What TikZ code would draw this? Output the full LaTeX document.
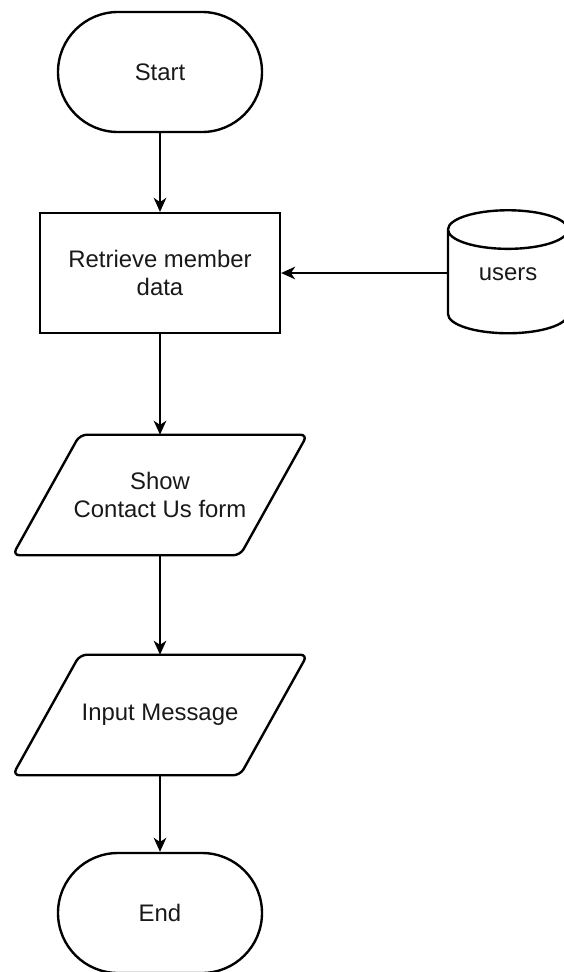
\documentclass[tikz,border=0pt]{standalone}
\usepackage{fontspec}
\setmainfont{Liberation Sans}
\usetikzlibrary{shapes.misc,shapes.geometric,arrows.meta}

\tikzstyle{startstop} = [draw, line width=1.7pt, rounded rectangle, minimum width=5.1cm, minimum height=3cm, inner sep=0pt]
\tikzstyle{process} = [draw, line width=1.6pt, rectangle, minimum width=6cm, minimum height=3cm, align=center]
\tikzstyle{io} = [rectangle, minimum width=5.675cm, minimum height=3cm, align=center, inner sep=0pt]
\tikzstyle{ioborder} = [line width=1.7pt, rounded corners=5pt]
\tikzstyle{db} = [draw, line width=1.7pt, cylinder, shape border rotate=90, aspect=0.66, minimum width=3cm, minimum height=3.075cm, inner sep=0pt]
\tikzstyle{arrow} = [line width=1.1pt, -{Stealth[length=10pt, width=9pt, inset=3pt]}]

\begin{document}
\begin{tikzpicture}[font=\fontsize{17}{20}\selectfont, text=black!90]
	\useasboundingbox (0,0) rectangle (14.075,-24.3);
	\node [startstop] (start) at (4,-1.8) {Start};
	\node [process] (retrieve) at (4,-6.825) {Retrieve member\\data};
	\node [db] (users) at (12.7,-7.05) {\raisebox{0.4cm}{users}};
	\node [io] (showform) at (4,-12.375) {Show\\Contact Us form};
	\node [io] (inputmsg) at (4,-17.875) {Input Message};
	\node [startstop] (end) at (4,-22.825) {End};

	% slanted outline of the input/output boxes
	\foreach \n in {showform, inputmsg}
		\draw [ioborder] ([xshift=-0.84cm]\n.south west) -- ([xshift=0.84cm]\n.north west)
			-- ([xshift=0.84cm]\n.north east) -- ([xshift=-0.84cm]\n.south east) -- cycle;

	\draw [arrow] (start) -- (retrieve);
	\draw [arrow] (users.west |- retrieve) -- (retrieve);
	\draw [arrow] (retrieve) -- (showform);
	\draw [arrow] (showform) -- (inputmsg);
	\draw [arrow] (inputmsg) -- (end);
\end{tikzpicture}
\end{document}
